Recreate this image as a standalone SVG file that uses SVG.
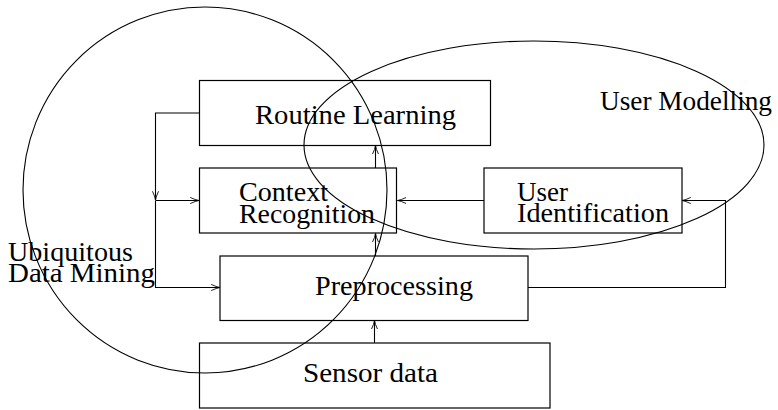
<svg xmlns="http://www.w3.org/2000/svg" width="778" height="410" viewBox="0 0 778 410">
<style>
.box{fill:none;stroke:#000;stroke-width:1.2}
.lbl{font-family:"Liberation Serif",serif;font-size:28px;fill:#000}
.con{fill:none;stroke:#000;stroke-width:1.1}
.ell{fill:none;stroke:#000;stroke-width:1.1}
</style>
<defs>
<marker id="arr" viewBox="0 0 10 8" refX="10" refY="4" markerUnits="userSpaceOnUse" markerWidth="9" markerHeight="7" orient="auto">
<path d="M0,0.5 Q6,3.4 10,4 Q6,4.6 0,7.5" fill="none" stroke="#000" stroke-width="1"/>
</marker>
</defs>
<rect width="778" height="410" fill="#fff"/>
<g id="connectors">
<path class="con" d="M199.5,113 H155.5 V200" marker-end="url(#arr)"/>
<path class="con" d="M155.5,200.5 V287.5 H220" marker-end="url(#arr)"/>
<path class="con" d="M155.5,200.5 H199" marker-end="url(#arr)"/>
<path class="con" d="M375.5,168 V145.5" marker-end="url(#arr)"/>
<path class="con" d="M375.5,256 V233.5" marker-end="url(#arr)"/>
<path class="con" d="M374.5,343 V320.5" marker-end="url(#arr)"/>
<path class="con" d="M484,200.5 H397.5" marker-end="url(#arr)"/>
<path class="con" d="M528,287.5 H725.5 V200.5 H682" marker-end="url(#arr)"/>
</g>
<g id="routine-learning">
<rect class="box" x="199.5" y="80.5" width="291" height="65"/>
<text class="lbl" x="255" y="124" textLength="201" lengthAdjust="spacingAndGlyphs">Routine Learning</text>
</g>
<g id="context-recognition">
<rect class="box" x="199.5" y="168" width="197" height="65"/>
<text class="lbl" x="239" y="201" textLength="89" lengthAdjust="spacingAndGlyphs">Context</text>
<text class="lbl" x="239" y="223" textLength="136" lengthAdjust="spacingAndGlyphs">Recognition</text>
</g>
<g id="user-identification">
<rect class="box" x="484" y="168" width="198" height="65"/>
<text class="lbl" x="517" y="201" textLength="51" lengthAdjust="spacingAndGlyphs">User</text>
<text class="lbl" x="517" y="222" textLength="152" lengthAdjust="spacingAndGlyphs">Identification</text>
</g>
<g id="preprocessing">
<rect class="box" x="220" y="256" width="308" height="64.5"/>
<text class="lbl" x="315" y="294.5" textLength="158" lengthAdjust="spacingAndGlyphs">Preprocessing</text>
</g>
<g id="sensor-data">
<rect class="box" x="199.5" y="343" width="350.5" height="65"/>
<text class="lbl" x="303" y="381.5" textLength="135" lengthAdjust="spacingAndGlyphs">Sensor data</text>
</g>
<g id="ubiquitous-data-mining">
<ellipse class="ell" cx="205" cy="190" rx="182" ry="183"/>
<text class="lbl" x="8" y="261" textLength="125" lengthAdjust="spacingAndGlyphs">Ubiquitous</text>
<text class="lbl" x="8" y="282" textLength="147" lengthAdjust="spacingAndGlyphs">Data Mining</text>
</g>
<g id="user-modelling">
<ellipse class="ell" cx="534" cy="145" rx="230" ry="104"/>
<text class="lbl" x="600" y="110" textLength="172" lengthAdjust="spacingAndGlyphs">User Modelling</text>
</g>
</svg>
